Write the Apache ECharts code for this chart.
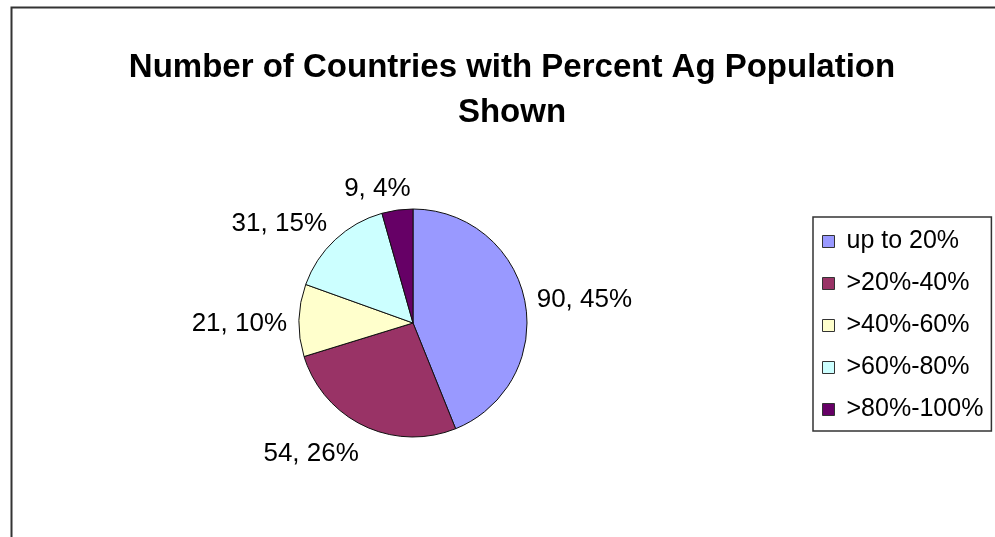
<!DOCTYPE html>
<html>
<head>
<meta charset="utf-8">
<script src="https://cdn.jsdelivr.net/npm/echarts@6/dist/echarts.min.js"></script>
<style>html,body{margin:0;padding:0;background:#fff}#c{width:995px;height:537px}</style>
</head>
<body>
<div id="c"></div>
<script>
const categories = ['up to 20%', '>20%-40%', '>40%-60%', '>60%-80%', '>80%-100%'];
const counts = [90, 54, 21, 31, 9];
const percentLabels = ['45%', '26%', '10%', '15%', '4%'];
const colors = ['#9999FF', '#993366', '#FFFFCC', '#CCFFFF', '#660066'];
const titleLines = ['Number of Countries with Percent Ag Population', 'Shown'];

const CX = 413, CY = 323, R = 114, GAP = 12, DY = 4;
const total = counts.reduce((a, b) => a + b, 0);
const midAngles = [];
{ let acc = 0; counts.forEach(v => { midAngles.push((acc + v / 2) / total * 2 * Math.PI); acc += v; }); }
const clamp = v => Math.max(-1, Math.min(1, v));

const chart = echarts.init(document.getElementById('c'));
chart.setOption({
  animation: false,
  backgroundColor: '#fff',
  graphic: [{
    type: 'rect', left: 9, top: 5,
    shape: { x: 0, y: 0, width: 1100, height: 700 },
    style: { fill: 'none', stroke: '#333', lineWidth: 2 }
  }],
  title: {
    text: titleLines.join('\n'),
    left: 507, top: 40, textAlign: 'center',
    textStyle: { fontFamily: 'Liberation Sans', fontWeight: 'bold', fontSize: 33, color: '#000', lineHeight: 45 }
  },
  legend: {
    orient: 'vertical', left: 813, top: 217,
    data: categories,
    itemWidth: 12, itemHeight: 12, itemGap: 17,
    padding: [12, 8, 9, 9],
    borderColor: '#333', borderWidth: 1.5,
    icon: 'rect',
    itemStyle: { borderColor: '#333', borderWidth: 1 },
    textStyle: { fontFamily: 'Liberation Sans', fontSize: 25, lineHeight: 25, color: '#000', padding: [0, 0, 0, 7] }
  },
  series: [{
    type: 'pie',
    center: [CX, CY], radius: R,
    startAngle: 90, clockwise: true,
    data: categories.map((n, i) => ({ name: n, value: counts[i], itemStyle: { color: colors[i] } })),
    itemStyle: { borderColor: '#111', borderWidth: 1 },
    label: {
      show: true, position: 'outside',
      formatter: p => counts[p.dataIndex] + ', ' + percentLabels[p.dataIndex],
      fontFamily: 'Liberation Sans', fontSize: 26, color: '#000'
    },
    labelLine: { show: false, length: 8, length2: 0 },
    labelLayout: p => {
      const a = midAngles[p.dataIndex];
      const s = Math.sin(a), c = -Math.cos(a);
      const w = p.labelRect.width, h = p.labelRect.height;
      return {
        x: CX + (R + GAP) * s + clamp(4 * s) * w / 2,
        y: CY + (R + GAP) * c + clamp(1.2 * c) * h / 2 + DY,
        align: 'center', verticalAlign: 'middle'
      };
    },
    emphasis: { disabled: true }
  }]
});
</script>
</body>
</html>
